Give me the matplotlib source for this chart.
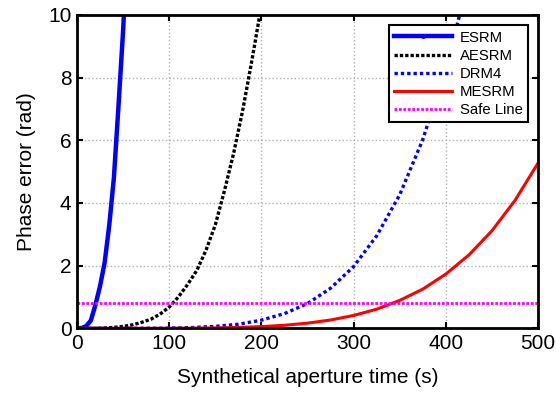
import matplotlib
matplotlib.use('Agg')
import matplotlib.pyplot as plt

plt.rcParams['font.family'] = ['Liberation Sans', 'DejaVu Sans']

# synthetic aperture time (s) and phase error (rad)
t_esrm = [0, 5, 10, 15, 20, 25, 30, 35, 40, 45, 50, 55]
esrm = [0, 0.01, 0.07, 0.25, 0.75, 1.35, 2.1, 3.3, 4.8, 7.1, 9.5, 12.5]

t_aesrm = [0, 10, 20, 30, 40, 50, 60, 70, 80, 90, 100, 110, 120, 130, 140,
           150, 160, 170, 180, 190, 200, 210]
aesrm = [0, 0, 0.002, 0.01, 0.03, 0.06, 0.11, 0.19, 0.29, 0.45, 0.68, 1.0,
         1.4, 1.85, 2.5, 3.3, 4.4, 5.6, 7.0, 8.6, 10.3, 12.3]

t_drm4 = [0, 25, 50, 75, 100, 125, 150, 175, 200, 225, 250, 275, 300, 325,
          350, 375, 400, 410, 420]
drm4 = [0, 0, 0.0003, 0.002, 0.008, 0.025, 0.062, 0.13, 0.26, 0.47, 0.79,
        1.28, 1.97, 2.95, 4.26, 6.02, 8.32, 9.41, 10.6]

t_mesrm = [0, 25, 50, 75, 100, 125, 150, 175, 200, 225, 250, 275, 300, 325,
           350, 375, 400, 425, 450, 475, 500]
mesrm = [0, 0, 0.00005, 0.0004, 0.0017, 0.005, 0.013, 0.028, 0.054, 0.097,
         0.165, 0.265, 0.41, 0.61, 0.89, 1.25, 1.73, 2.34, 3.11, 4.08, 5.27]

safe_t = [0, 500]
safe = [0.8, 0.8]

fig = plt.figure(figsize=(5.56, 3.94), dpi=100)
ax = fig.add_axes([0.1385, 0.1667, 0.8291, 0.7953])

ax.plot(t_esrm, esrm, color='#0000ff', lw=3.2, marker='.', markersize=5,
        markevery=[], label='ESRM')
ax.plot(t_aesrm, aesrm, color='black', lw=2.4, ls=(0, (1, 0.6)), label='AESRM')
ax.plot(t_drm4, drm4, color='#0000ff', lw=2.4, ls=(0, (1, 0.9)), label='DRM4')
ax.plot(t_mesrm, mesrm, color='#ff0000', lw=2.2, label='MESRM')
ax.plot(safe_t, safe, color='#ff00ff', lw=2.0, ls=(0, (1, 0.6)), label='Safe Line')

ax.set_xlim(0, 500)
ax.set_ylim(0, 10)
ax.set_xticks([0, 100, 200, 300, 400, 500])
ax.set_yticks([0, 2, 4, 6, 8, 10])
ax.grid(True, color='#b0b0b0', ls=':', lw=1.0)
ax.tick_params(direction='in', length=4, width=1.5, labelsize=15, top=True, right=True, pad=4)
for s in ax.spines.values():
    s.set_linewidth(2)

ax.set_xlabel('Synthetical aperture time (s)', fontsize=15, labelpad=11)
ax.set_ylabel('Phase error (rad)', fontsize=15, labelpad=9)

leg = ax.legend(loc='upper right', fontsize=10.7, fancybox=False, framealpha=1,
                edgecolor='black', handlelength=3.9, borderpad=0.35,
                labelspacing=0.28, borderaxespad=0.7, handletextpad=0.5)
leg.get_frame().set_linewidth(1.5)

fig.savefig('out.png', dpi=100)
